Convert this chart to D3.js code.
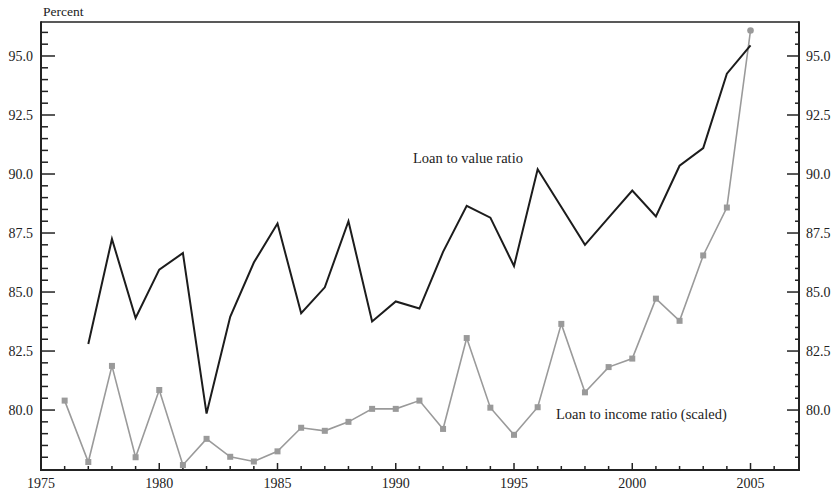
<!DOCTYPE html>
<html><head><meta charset="utf-8">
<script src="https://cdn.jsdelivr.net/npm/d3@7"></script>
<style>
body{margin:0;background:#fff;}
text{font-family:"Liberation Serif","DejaVu Serif",serif;fill:#222;}
</style></head>
<body><svg id="c" width="838" height="492"></svg>
<script>
const ltvYears = [1977,1978,1979,1980,1981,1982,1983,1984,1985,1986,1987,1988,1989,1990,1991,1992,1993,1994,1995,1996,1997,1998,1999,2000,2001,2002,2003,2004,2005];
const ltvValues = [82.8,87.25,83.9,85.95,86.65,79.85,83.95,86.25,87.9,84.1,85.2,88.0,83.75,84.6,84.3,86.7,88.65,88.15,86.1,90.2,88.6,87.0,88.15,89.3,88.2,90.35,91.1,94.25,95.45];
const ltiYears = [1976,1977,1978,1979,1980,1981,1982,1983,1984,1985,1986,1987,1988,1989,1990,1991,1992,1993,1994,1995,1996,1997,1998,1999,2000,2001,2002,2003,2004,2005];
const ltiValues = [80.4,77.8,81.87,78.0,80.85,77.67,78.78,78.02,77.82,78.25,79.25,79.12,79.5,80.05,80.05,80.4,79.2,83.05,80.1,78.95,80.12,83.65,80.75,81.82,82.18,84.72,83.78,86.55,88.58,96.08];
const yTicks = [80.0,82.5,85.0,87.5,90.0,92.5,95.0];
const xTicks = [1975,1980,1985,1990,1995,2000,2005];
const seriesLabels = ["Loan to value ratio","Loan to income ratio (scaled)"];
const axisTitle = "Percent";

const svg = d3.select("#c");
const L=41,R=799,T=22,B=470;
const x = d3.scaleLinear().domain([1975,2007.05]).range([L,R]);
const y = d3.scaleLinear().domain([77.46,96.44]).range([B,T]);

const minorY = d3.range(77.5,96.5,0.5).filter(v=>Math.abs(v/2.5-Math.round(v/2.5))>1e-6);
const minorX = d3.range(1976,2007,1).filter(v=>v%5!==0);

const g = svg.append("g");
g.append("line").attr("x1",L).attr("x2",R).attr("y1",T).attr("y2",T).attr("stroke","#222").attr("stroke-width",1.5);
const ax = g.append("g").attr("stroke","#222");
ax.append("line").attr("x1",L).attr("x2",L).attr("y1",T-0.75).attr("y2",B+1).attr("stroke-width",2);
ax.append("line").attr("x1",R).attr("x2",R).attr("y1",T-0.75).attr("y2",B+1).attr("stroke-width",2);
ax.append("line").attr("x1",L-1).attr("x2",R+1).attr("y1",B).attr("y2",B).attr("stroke-width",2);
yTicks.forEach(v=>{
  ax.append("line").attr("x1",L).attr("x2",L+14).attr("y1",y(v)).attr("y2",y(v)).attr("stroke-width",1.5);
  ax.append("line").attr("x1",R).attr("x2",R-12).attr("y1",y(v)).attr("y2",y(v)).attr("stroke-width",1.5);
});
minorY.forEach(v=>{
  ax.append("line").attr("x1",L).attr("x2",L+7).attr("y1",y(v)).attr("y2",y(v)).attr("stroke-width",1.5);
  ax.append("line").attr("x1",R).attr("x2",R-4).attr("y1",y(v)).attr("y2",y(v)).attr("stroke-width",1.5);
});
xTicks.forEach(v=>{
  ax.append("line").attr("x1",x(v)).attr("x2",x(v)).attr("y1",B).attr("y2",B-7).attr("stroke-width",1.5);
});
minorX.forEach(v=>{
  ax.append("line").attr("x1",x(v)).attr("x2",x(v)).attr("y1",B).attr("y2",B-4).attr("stroke-width",1.5);
});
yTicks.forEach(v=>{
  g.append("text").attr("x",33).attr("y",y(v)+5).attr("text-anchor","end").attr("font-size",14).text(d3.format(".1f")(v));
  g.append("text").attr("x",806).attr("y",y(v)+5).attr("text-anchor","start").attr("font-size",14).text(d3.format(".1f")(v));
});
xTicks.forEach(v=>{
  g.append("text").attr("x",x(v)).attr("y",488).attr("text-anchor","middle").attr("font-size",14).text(v);
});
g.append("text").attr("x",43).attr("y",16).attr("font-size",13.5).text(axisTitle);

const line = d3.line().x(d=>x(d[0])).y(d=>y(d[1]));
const ltv = ltvYears.map((yr,i)=>[yr,ltvValues[i]]);
const lti = ltiYears.map((yr,i)=>[yr,ltiValues[i]]);
g.append("path").datum(lti).attr("d",line).attr("fill","none").attr("stroke","#9a9a9a").attr("stroke-width",1.6);
g.selectAll(".sq").data(lti.slice(0,-1)).enter().append("rect")
  .attr("x",d=>x(d[0])-3).attr("y",d=>y(d[1])-3).attr("width",6).attr("height",6).attr("fill","#9a9a9a");
g.append("circle").datum(lti[lti.length-1]).attr("cx",d=>x(d[0])).attr("cy",d=>y(d[1])).attr("r",3.3).attr("fill","#9a9a9a");
g.append("path").datum(ltv).attr("d",line).attr("fill","none").attr("stroke","#1c1c1c").attr("stroke-width",2);

g.append("text").attr("x",413).attr("y",163).attr("font-size",14.5).text(seriesLabels[0]);
g.append("text").attr("x",556).attr("y",419).attr("font-size",14.5).text(seriesLabels[1]);
</script></body></html>
